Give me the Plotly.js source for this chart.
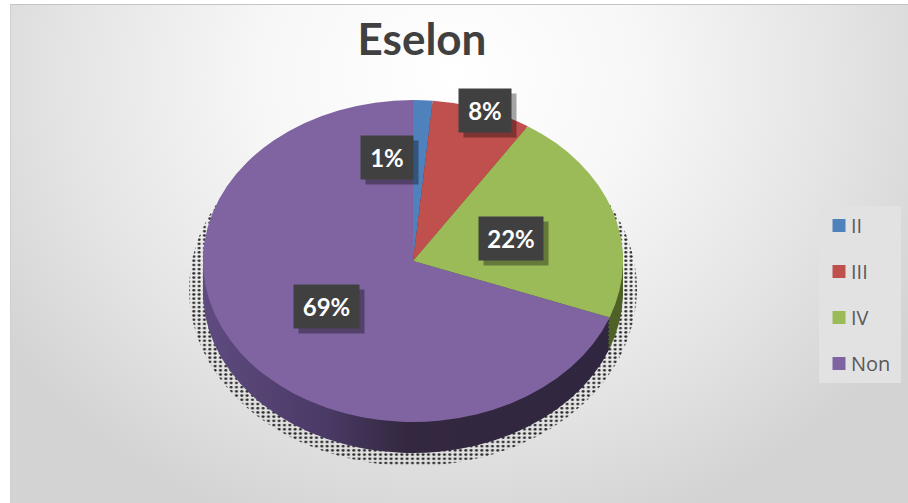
<!DOCTYPE html>
<html>
<head>
<meta charset="utf-8">
<script src="https://cdn.plot.ly/plotly-3.0.1.min.js"></script>
<style>
html,body{margin:0;padding:0;background:#fff;width:908px;height:503px;overflow:hidden}
#bg{position:absolute;left:10px;top:4px;width:898px;height:499px;box-sizing:border-box;border-top:1.5px solid #c4c4c4;border-left:1px solid #d0d0d0;
background:radial-gradient(ellipse 540px 480px at 440px 70px,#ffffff 0%,#f7f7f7 35%,#e4e4e4 72%,#d3d3d3 100%)}
#chart{position:absolute;left:0;top:0;width:908px;height:503px}
</style>
</head>
<body>
<div id="bg"></div>
<div id="chart"></div>
<script>
const categories = ["II", "III", "IV", "Non"];
const values = [1.5, 7.7, 21.5, 69.3];
const percentLabels = ["1%", "8%", "22%", "69%"];
const topColors = ["#4f81bd", "#c0504d", "#9bbb59", "#8064a2"];
const sideColors = ["#2a4466", "#6a2b29", "#4f6228", "#3a2d50"];

const W = 908, H = 503;
const cx = 413, cy = 261, rx = 210, ry = 161;
const depthOffsets = [31, 27, 23, 19, 15, 11, 7, 3];

function pie(colors) {
  return {
    type: "pie", labels: categories, values: values, sort: false,
    direction: "clockwise", rotation: 0, textinfo: "none", hoverinfo: "skip",
    showlegend: false,
    domain: {x: [(cx - rx) / W, (cx + rx) / W], y: [1 - (cy + rx) / H, 1 - (cy - rx) / H]},
    marker: {colors: colors, line: {width: 0}}
  };
}

const shadow = pie(["rgba(0,0,0,0)", "rgba(0,0,0,0)", "rgba(0,0,0,0)", "rgba(0,0,0,0)"]);
shadow.marker.pattern = {shape: ".", size: 5, solidity: 0.26, fgcolor: "#2a2a2a", bgcolor: "rgba(0,0,0,0)", fillmode: "replace"};

const traces = [shadow];
depthOffsets.forEach(() => traces.push(pie(sideColors)));
traces.push(pie(topColors));

// legend entries: one group per category so the entries can be spaced out
categories.forEach((c, i) => traces.push({
  type: "scatter", mode: "markers", x: [null], y: [null], name: c, legendgroup: c,
  marker: {symbol: "square", size: 13, color: topColors[i]}, hoverinfo: "skip"
}));

const labelBoxes = [
  {x: 387, y: 157, w: 50},
  {x: 485.5, y: 110, w: 50},
  {x: 511, y: 238, w: 62},
  {x: 326.5, y: 306, w: 63}
];
const annotations = [];
labelBoxes.forEach((b) => {
  annotations.push({xref: "paper", yref: "paper", x: (b.x + 5) / W, y: 1 - (b.y + 5) / H, xanchor: "center", yanchor: "middle",
    text: "\u00a0", showarrow: false, width: b.w, height: 41, bgcolor: "rgba(0,0,0,0.35)", font: {family: "Lato", size: 24}});
});
labelBoxes.forEach((b, i) => {
  annotations.push({xref: "paper", yref: "paper", x: b.x / W, y: 1 - b.y / H, xanchor: "center", yanchor: "middle",
    text: "<b>" + percentLabels[i] + "</b>", showarrow: false,
    width: b.w, height: 41, bgcolor: "#404040", font: {family: "Lato", size: 24, color: "#ffffff"}});
});

const layout = {
  width: W, height: H, margin: {l: 0, r: 0, t: 0, b: 0},
  paper_bgcolor: "rgba(0,0,0,0)", plot_bgcolor: "rgba(0,0,0,0)",
  title: {text: "<b>Eselon</b>", x: 422 / W, xanchor: "center", y: 1 - 40 / H, yanchor: "middle",
    font: {family: "Lato", size: 44, color: "#404040"}},
  xaxis: {visible: false, range: [0, 1]},
  yaxis: {visible: false, range: [0, 1]},
  showlegend: true,
  legend: {x: 819 / W, xanchor: "left", y: 1 - 206 / H, yanchor: "top", bgcolor: "#e2e2e2",
    tracegroupgap: 17, font: {family: "Open Sans", size: 20, color: "#595959"}},
  annotations: annotations
};

Plotly.newPlot("chart", traces, layout, {displayModeBar: false, staticPlot: true}).then(() => {
  const svg = document.querySelector("#chart .main-svg");
  const NS = "http://www.w3.org/2000/svg";
  const defs = svg.querySelector("defs");
  const g = document.createElementNS(NS, "linearGradient");
  g.setAttribute("id", "sideGrad");
  [["0", "#5f4b80"], ["0.3", "#4a3a66"], ["0.5", "#33283f"], ["1", "#30263f"]].forEach(s => {
    const st = document.createElementNS(NS, "stop");
    st.setAttribute("offset", s[0]); st.setAttribute("stop-color", s[1]);
    g.appendChild(st);
  });
  defs.appendChild(g);

  const pies = document.querySelectorAll("#chart .pielayer .trace");
  const sy = ry / rx;
  pies.forEach((t, i) => {
    let tx = cx, ty = cy, sX = 1, sY = sy;
    if (i === 0) { ty = cy + 28; sX = 224 / rx; sY = 177 / rx; }
    else if (i <= depthOffsets.length) {
      ty = cy + depthOffsets[i - 1];
      const paths = t.querySelectorAll(".slice path.surface");
      if (paths[3]) paths[3].style.fill = "url(#sideGrad)";
    }
    t.setAttribute("transform", `translate(${tx},${ty}) scale(${sX},${sY}) translate(${-cx},${-cy})`);
  });

  // tighten the gap between legend swatch and legend text
  document.querySelectorAll("#chart .legend .legendtext").forEach(t => {
    t.setAttribute("x", Number(t.getAttribute("x")) - 8);
  });
  const bg = document.querySelector("#chart .legend rect.bg");
  if (bg) { bg.setAttribute("width", 82); }
});
</script>
</body>
</html>
